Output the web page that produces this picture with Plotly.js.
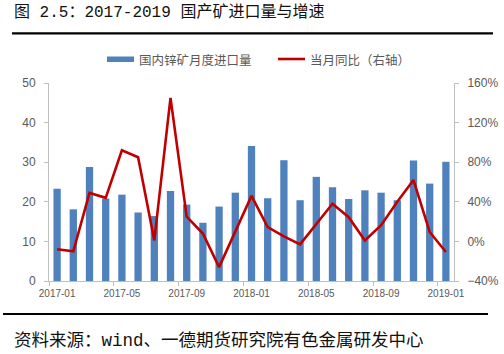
<!DOCTYPE html>
<html>
<head>
<meta charset="utf-8">
<script src="https://cdn.plot.ly/plotly-3.0.1.min.js"></script>
<style>html,body{margin:0;padding:0;background:#fff;}#chart{width:504px;height:354px;}</style>
</head>
<body>
<div id="chart"></div>
<script>
const months = ["2017-01","2017-02","2017-03","2017-04","2017-05","2017-06","2017-07","2017-08","2017-09","2017-10","2017-11","2017-12",
"2018-01","2018-02","2018-03","2018-04","2018-05","2018-06","2018-07","2018-08","2018-09","2018-10","2018-11","2018-12","2019-01"];
const importVolume = [23.3,18.1,28.8,20.8,21.8,17.3,16.4,22.7,19.3,14.7,18.8,22.3,
34.1,20.9,30.5,20.4,26.3,23.7,20.7,22.9,22.3,20.4,30.4,24.6,30.1];
const yoy = [-0.08,-0.10,0.49,0.44,0.92,0.85,0.01,1.45,0.25,0.08,-0.26,0.10,
0.46,0.145,0.05,-0.03,0.18,0.38,0.245,0.01,0.163,0.40,0.62,0.095,-0.107];
const seriesNames = ["国内锌矿月度进口量","当月同比（右轴）"];
const titleText = "图 2.5：2017-2019 国产矿进口量与增速";
const sourceText = "资料来源：wind、一德期货研究院有色金属研发中心";

const grey = "#595959";
const axisLine = "#BFBFBF";
const cjk = "Liberation Mono, Noto Sans CJK SC, sans-serif";

const traces = [
  {type:"bar", x:months, y:importVolume, name:seriesNames[0], marker:{color:"#4F81BD"}, showlegend:false},
  {type:"scatter", mode:"lines", x:months, y:yoy, name:seriesNames[1], yaxis:"y2",
   line:{color:"#C00000", width:2.6}, showlegend:false}
];

const layout = {
  width:504, height:354,
  paper_bgcolor:"#fff", plot_bgcolor:"#fff",
  margin:{l:49, r:50, t:83, b:73},
  bargap:0.55,
  xaxis:{type:"category", tickmode:"linear", tick0:0, dtick:4, tickson:"boundaries",
    ticks:"outside", ticklen:4, tickcolor:axisLine, showline:true, linecolor:axisLine, linewidth:1,
    showgrid:false, tickfont:{family:"Liberation Sans, Arial", size:10, color:grey}, tickangle:0,
    ticklabelstandoff:3, range:[-0.5,24.5]},
  yaxis:{range:[0,50], dtick:10, showgrid:false, zeroline:false, showline:true, linecolor:axisLine,
    ticks:"outside", ticklen:4, tickcolor:axisLine, ticklabelstandoff:6,
    tickfont:{family:"Liberation Sans, Arial", size:12, color:grey}},
  yaxis2:{range:[-0.4,1.6], dtick:0.4, tickformat:".0%", overlaying:"y", side:"right",
    showgrid:false, zeroline:false, showline:true, linecolor:axisLine,
    ticks:"outside", ticklen:4, tickcolor:axisLine, ticklabelstandoff:6,
    tickfont:{family:"Liberation Sans, Arial", size:12, color:grey}},
  shapes:[
    {type:"line", xref:"paper", yref:"paper", x0:-37/405, x1:444/405, y0:(281-33.3)/198, y1:(281-33.3)/198, line:{color:"#000", width:2.2}},
    {type:"line", xref:"paper", yref:"paper", x0:-46/405, x1:439/405, y0:(281-314)/198, y1:(281-314)/198, line:{color:"#000", width:2.2}},
    {type:"rect", xref:"paper", yref:"paper", x0:(107-49)/405, x1:(134-49)/405, y0:(281-62)/198, y1:(281-56.5)/198, fillcolor:"#4F81BD", line:{width:0}},
    {type:"line", xref:"paper", yref:"paper", x0:(278-49)/405, x1:(305-49)/405, y0:(281-59)/198, y1:(281-59)/198, line:{color:"#C00000", width:2.6}}
  ],
  annotations:[
    {xref:"paper", yref:"paper", x:-37/405, y:(281-13)/198, xanchor:"left", yanchor:"middle", showarrow:false,
     text:titleText, font:{family:cjk, size:16, color:"#111"}},
    {xref:"paper", yref:"paper", x:-37/405, y:(281-341)/198, xanchor:"left", yanchor:"middle", showarrow:false,
     text:sourceText, font:{family:cjk, size:17.5, color:"#111"}},
    {xref:"paper", yref:"paper", x:(137-49)/405, y:(281-59)/198, xanchor:"left", yanchor:"middle", showarrow:false,
     text:seriesNames[0], font:{family:"Noto Sans CJK SC", size:12.5, color:grey}},
    {xref:"paper", yref:"paper", x:(308-49)/405, y:(281-59)/198, xanchor:"left", yanchor:"middle", showarrow:false,
     text:seriesNames[1], font:{family:"Noto Sans CJK SC", size:12.5, color:grey}}
  ]
};

Plotly.newPlot("chart", traces, layout, {staticPlot:true, displayModeBar:false});
</script>
</body>
</html>
